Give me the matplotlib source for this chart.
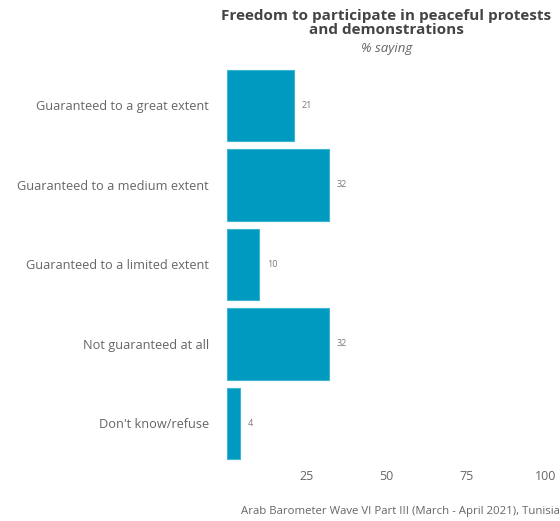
import matplotlib
matplotlib.use("Agg")
import matplotlib.pyplot as plt

categories = ["Guaranteed to a great extent", "Guaranteed to a medium extent",
              "Guaranteed to a limited extent", "Not guaranteed at all",
              "Don't know/refuse"]
values = [21, 32, 10, 32, 4]
xticks = [25, 50, 75, 100]

plt.rcParams["font.family"] = ["Open Sans", "DejaVu Sans"]

fig = plt.figure(figsize=(5.6, 5.21), dpi=100)
ax = fig.add_axes([0.405, 0.111, 0.570, 0.763])

pos = list(range(len(categories)))
ax.barh(pos, values, height=0.9, color="#0099bf", edgecolor="#3db6d6", linewidth=0.8)
for p, v in zip(pos, values):
    ax.text(v + 2.5, p, str(v), va="center", ha="left", fontsize=6.5, color="#777777")

ax.set_xlim(0, 100)
ax.set_ylim(len(categories) - 0.5, -0.5)
ax.set_yticks(pos)
ax.set_yticklabels(categories, fontsize=9.2, color="#666666")
ax.set_xticks(xticks)
ax.set_xticklabels([str(t) for t in xticks], fontsize=9, color="#666666")
ax.tick_params(length=0)
ax.tick_params(axis="x", pad=5)
ax.tick_params(axis="y", pad=13)
for s in ax.spines.values():
    s.set_visible(False)

fig.text(0.69, 0.982, "Freedom to participate in peaceful protests\nand demonstrations",
         ha="center", va="top", fontsize=11, fontweight="bold", color="#444444",
         linespacing=1.0)
fig.text(0.69, 0.907, "% saying", ha="center", va="center", fontsize=9.5,
         style="italic", color="#666666")
fig.text(0.999, 0.019, "Arab Barometer Wave VI Part III (March - April 2021), Tunisia",
         ha="right", va="center", fontsize=8.2, color="#666666")

fig.savefig("out.png", dpi=100)
